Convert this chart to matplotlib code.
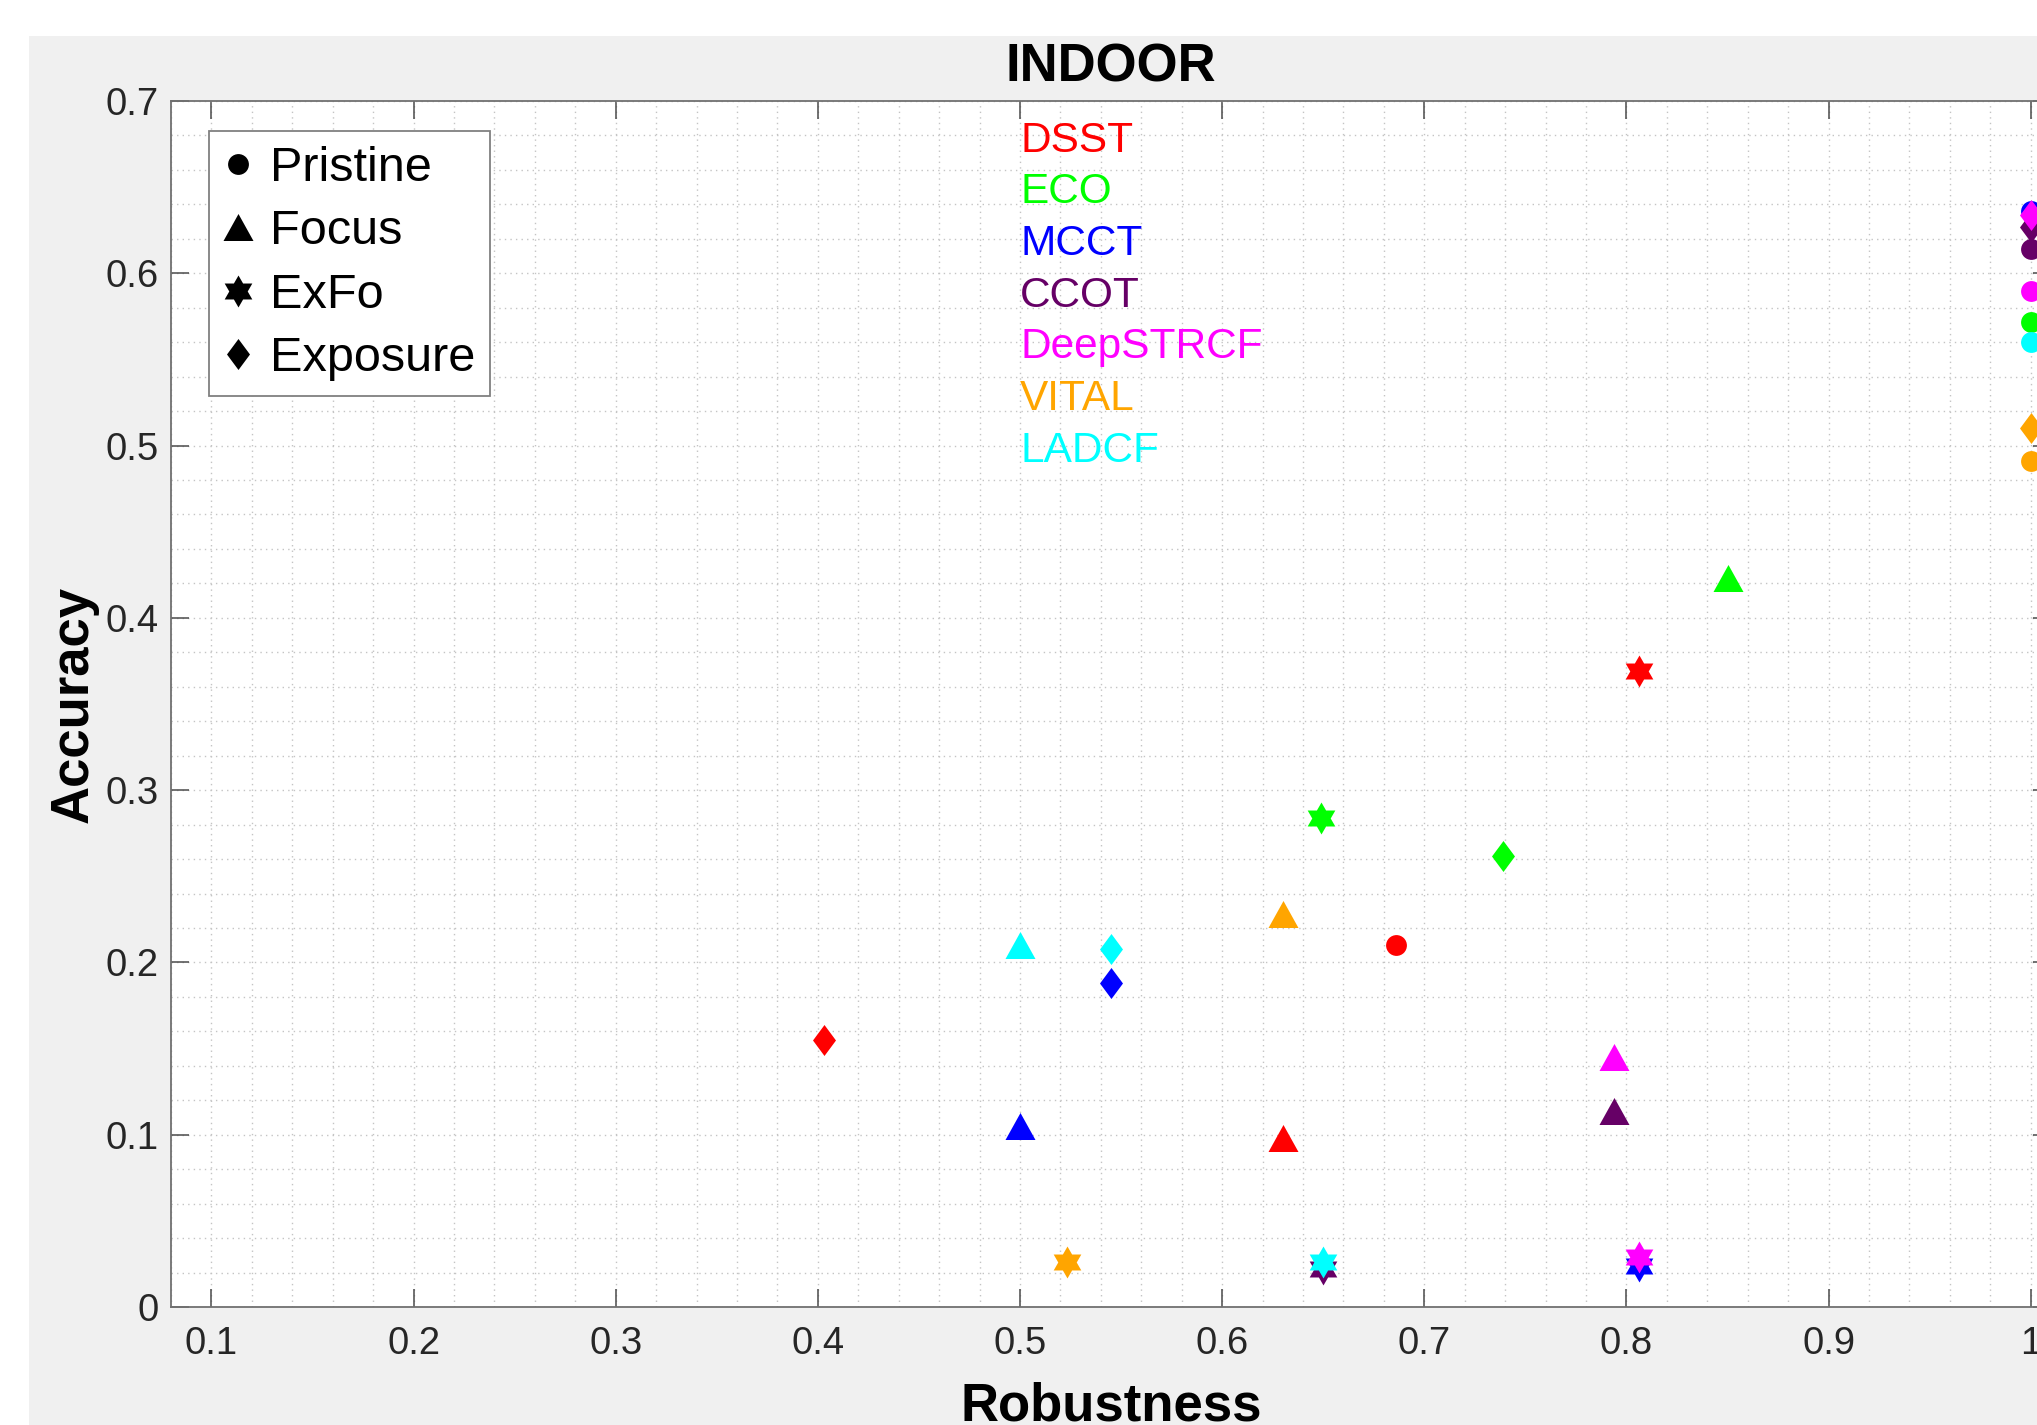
#!/usr/bin/env python3
"""
Accuracy vs robustness scatter for the INDOOR sequences
(MATLAB-style figure, right side clipped at x = 1)
"""
import numpy as np
import matplotlib
matplotlib.use('Agg')
import matplotlib.pyplot as plt
from matplotlib.lines import Line2D
from matplotlib.patches import Rectangle
from matplotlib.ticker import MultipleLocator

plt.rcParams['font.family'] = ['Liberation Sans', 'DejaVu Sans']

# ---- data ----
trackers = ['DSST', 'ECO', 'MCCT', 'CCOT', 'DeepSTRCF', 'VITAL', 'LADCF']
tracker_colors = ['#ff0000', '#00ff00', '#0000ff', '#660066', '#ff00ff', '#ffa500', '#00ffff']
conditions = ['Pristine', 'Focus', 'ExFo', 'Exposure']

# one value per condition: Pristine, Focus, ExFo, Exposure
dsst_rob = [0.686, 0.630, 0.806, 0.403]
dsst_acc = [0.210, 0.098, 0.369, 0.155]
eco_rob = [1.000, 0.850, 0.649, 0.739]
eco_acc = [0.572, 0.423, 0.284, 0.262]
mcct_rob = [1.000, 0.500, 0.806, 0.545]
mcct_acc = [0.636, 0.105, 0.024, 0.188]
ccot_rob = [1.000, 0.794, 0.650, 1.000]
ccot_acc = [0.614, 0.114, 0.022, 0.627]
deepstrcf_rob = [1.000, 0.794, 0.806, 1.000]
deepstrcf_acc = [0.590, 0.145, 0.029, 0.634]
vital_rob = [1.000, 0.630, 0.523, 1.000]
vital_acc = [0.491, 0.228, 0.026, 0.510]
ladcf_rob = [1.000, 0.500, 0.650, 0.545]
ladcf_acc = [0.560, 0.210, 0.026, 0.208]

robustness = [dsst_rob, eco_rob, mcct_rob, ccot_rob, deepstrcf_rob, vital_rob, ladcf_rob]
accuracy = [dsst_acc, eco_acc, mcct_acc, ccot_acc, deepstrcf_acc, vital_acc, ladcf_acc]

# name labels placed inside the axes
label_x = 0.5
label_y = [0.677, 0.647, 0.617, 0.587, 0.557, 0.527, 0.497]

# ---- marker shapes ----
ang = np.deg2rad(np.arange(12) * 30 + 90)
rad = np.where(np.arange(12) % 2 == 0, 1.0, 1 / np.sqrt(3))
hexagram = np.column_stack([rad * np.cos(ang), rad * np.sin(ang)])
triangle = np.array([[-15, -13.5], [15, -13.5], [0, 13.5]])
diamond = np.array([[0, 15.5], [11.5, 0], [0, -15.5], [-11.5, 0]])

cond_markers = ['o', triangle, hexagram, diamond]
cond_sizes = [15, 21.6, 23, 22.3]

# ---- figure ----
W, H = 2037, 1425
fig = plt.figure(figsize=(W / 100, H / 100), dpi=100, facecolor='white')
fig.patches.append(Rectangle((29 / W, 0), 1, 1 - 36 / H, transform=fig.transFigure,
                             facecolor='#f0f0f0', edgecolor='none', zorder=-10))

# axes box runs a little past the right edge of the picture
ax = fig.add_axes([171 / W, 118 / H, 1880 / W, 1206 / H])
ax.set_facecolor('white')

for i, name in enumerate(trackers):
    for j, cond in enumerate(conditions):
        ax.plot(robustness[i][j], accuracy[i][j], linestyle='none',
                marker=cond_markers[j], markersize=cond_sizes[j],
                color=tracker_colors[i], markeredgewidth=0, zorder=3)
    ax.text(label_x, label_y[i], name, color=tracker_colors[i], fontsize=30.5,
            ha='left', va='center', zorder=4)

ax.set_xlim(0.08, 1.01)
ax.set_ylim(0, 0.7)
ax.xaxis.set_minor_locator(MultipleLocator(0.02))
ax.yaxis.set_minor_locator(MultipleLocator(0.02))
ax.set_xticks(np.arange(0.1, 1.01, 0.1))
ax.set_xticklabels(['0.1', '0.2', '0.3', '0.4', '0.5', '0.6', '0.7', '0.8', '0.9', '1'])
ax.set_yticks(np.arange(0, 0.71, 0.1))
ax.set_yticklabels(['0', '0.1', '0.2', '0.3', '0.4', '0.5', '0.6', '0.7'])

ax.grid(True, which='both', linestyle=(0, (1.0, 3.0)), color='#c4c4c4', linewidth=1.0)
ax.set_axisbelow(True)
ax.tick_params(which='major', direction='in', length=13, width=1.1, color='#4a4a4a',
               top=True, right=True, labelsize=27.5, labelcolor='#262626')
ax.tick_params(axis='x', which='major', pad=14)
ax.tick_params(axis='y', which='major', pad=9)
ax.tick_params(which='minor', length=0)
for sp in ax.spines.values():
    sp.set_color('#707070')
    sp.set_linewidth(1.3)

ax.set_title('INDOOR', fontsize=38, fontweight='bold', pad=14)
ax.set_xlabel('Robustness', fontsize=38, fontweight='bold', va='top')
ax.xaxis.set_label_coords(0.5, -0.062)
ax.set_ylabel('Accuracy', fontsize=38, fontweight='bold', va='center')
ax.yaxis.set_label_coords(-0.052, 0.5)

handles = [Line2D([], [], linestyle='none', marker=cond_markers[j],
                  markersize=cond_sizes[j], color='black', markeredgewidth=0)
           for j in range(len(conditions))]
leg = ax.legend(handles, conditions, loc='upper left',
                bbox_to_anchor=(209 / W, 1 - 131 / H), bbox_transform=fig.transFigure,
                borderaxespad=0, fontsize=35, frameon=True, fancybox=False,
                framealpha=1, edgecolor='#808080', handlelength=0.6,
                handletextpad=0.36, borderpad=0.3, labelspacing=0.38)
leg.get_frame().set_linewidth(1.3)

plt.savefig('out.png', dpi=100)
plt.close()
